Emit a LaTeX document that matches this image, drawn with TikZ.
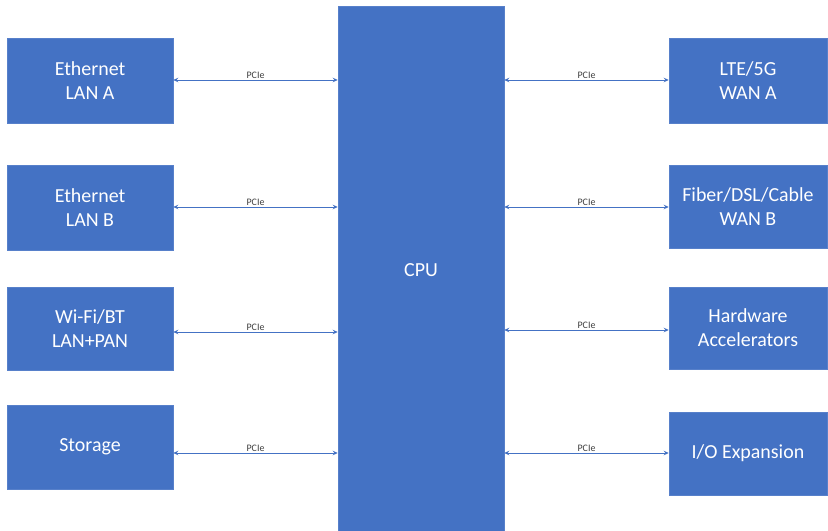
\documentclass[tikz,border=0pt]{standalone}
\usepackage{fontspec}
\setmainfont{Carlito}
\usetikzlibrary{arrows.meta}
\definecolor{boxblue}{HTML}{4472C4}
\definecolor{lineblue}{HTML}{4472C4}
\definecolor{labgray}{HTML}{404040}
\tikzset{
  blk/.style={fill=boxblue, draw=boxblue!90!white, line width=0.5bp, text=white,
    align=center, inner sep=0pt, font=\fontsize{20}{24}\selectfont},
  link/.style={lineblue, line width=0.9bp, {Stealth[length=5bp,width=4.5bp]}-{Stealth[length=5bp,width=4.5bp]}},
  lab/.style={text=labgray, font=\fontsize{10}{11}\selectfont, inner sep=1bp, above}
}
\begin{document}
\begin{tikzpicture}[x=1bp,y=-1bp]
\useasboundingbox (0,0) rectangle (828,531);
% CPU
\node[blk, minimum width=166bp, minimum height=525bp] (cpu) at (421,268.5) {};
\node[text=white, font=\fontsize{20}{24}\selectfont] (cputxt) at (421,270) {CPU};
% left boxes
\node[blk, minimum width=166bp, minimum height=85bp] (lana) at (90,80.5) {Ethernet\\LAN A};
\node[blk, minimum width=166bp, minimum height=85bp] (lanb) at (90,207.5) {Ethernet\\LAN B};
\node[blk, minimum width=166bp, minimum height=83bp] (wifi) at (90,328.5) {Wi-Fi/BT\\LAN+PAN};
\node[blk, minimum width=166bp, minimum height=84bp] (stor) at (90,447) {Storage};
% right boxes
\node[blk, minimum width=158bp, minimum height=85bp] (wana) at (748,80.5) {LTE/5G\\WAN A};
\node[blk, minimum width=158bp, minimum height=83bp] (wanb) at (748,206.5) {Fiber/DSL/Cable\\WAN B};
\node[blk, minimum width=158bp, minimum height=82bp] (hwa) at (748,328) {Hardware\\Accelerators};
\node[blk, minimum width=158bp, minimum height=83bp] (iox) at (748,453.5) {I/O Expansion};
% connectors left
\draw[link] (lana.east |- 0,80) -- node[lab]{PCIe} (cpu.west |- 0,80);
\draw[link] (lanb.east |- 0,207) -- node[lab]{PCIe} (cpu.west |- 0,207);
\draw[link] (wifi.east |- 0,332) -- node[lab]{PCIe} (cpu.west |- 0,332);
\draw[link] (stor.east |- 0,453) -- node[lab]{PCIe} (cpu.west |- 0,453);
% connectors right
\draw[link] (cpu.east |- 0,80) -- node[lab]{PCIe} (wana.west |- 0,80);
\draw[link] (cpu.east |- 0,207) -- node[lab]{PCIe} (wanb.west |- 0,207);
\draw[link] (cpu.east |- 0,330) -- node[lab]{PCIe} (hwa.west |- 0,330);
\draw[link] (cpu.east |- 0,453) -- node[lab]{PCIe} (iox.west |- 0,453);
\end{tikzpicture}
\end{document}
